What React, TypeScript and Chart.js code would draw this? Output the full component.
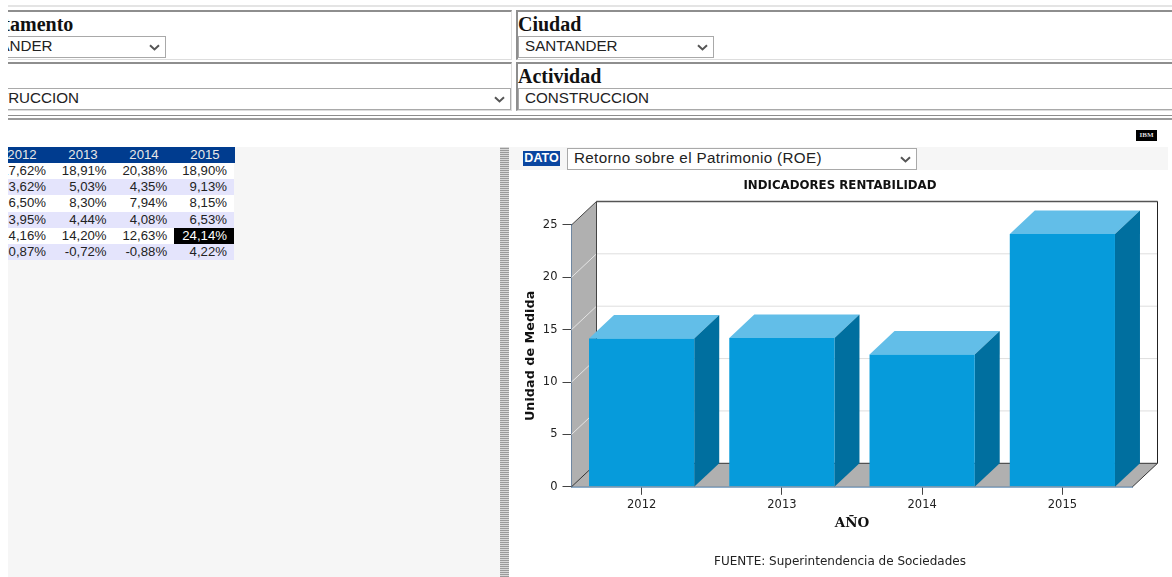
import React, { useEffect, useRef } from "react";
import { Chart, registerables } from "chart.js";

Chart.register(...registerables);

const years = ["2012", "2013", "2014", "2015"];
const roeValues = [14.16, 14.2, 12.63, 24.14];
const yTicks = [0, 5, 10, 15, 20, 25];

const tableRows = [
  ["17,62%", "18,91%", "20,38%", "18,90%"],
  ["3,62%", "5,03%", "4,35%", "9,13%"],
  ["6,50%", "8,30%", "7,94%", "8,15%"],
  ["3,95%", "4,44%", "4,08%", "6,53%"],
  ["14,16%", "14,20%", "12,63%", "24,14%"],
  ["0,87%", "-0,72%", "-0,88%", "4,22%"],
];

const DEPTH_X = 25;
const DEPTH_Y = 23.5;
const FRONT = "#069bdb";
const TOP = "#62bee8";
const SIDE = "#006f9f";
const WALL = "#b0b0b0";

function poly(ctx: CanvasRenderingContext2D, pts: number[][], fill: string) {
  ctx.beginPath();
  pts.forEach(([x, y], i) => (i ? ctx.lineTo(x, y) : ctx.moveTo(x, y)));
  ctx.closePath();
  ctx.fillStyle = fill;
  ctx.fill();
}

function seg(ctx: CanvasRenderingContext2D, x0: number, y0: number, x1: number, y1: number, color: string, w = 1) {
  ctx.beginPath();
  ctx.moveTo(x0, y0);
  ctx.lineTo(x1, y1);
  ctx.strokeStyle = color;
  ctx.lineWidth = w;
  ctx.stroke();
}

// Extruded room (walls and floor) and the top and side faces of each bar.
const box3d = {
  id: "box3d",
  beforeDatasetsDraw(chart: any) {
    const { ctx, chartArea: a, scales } = chart;
    const dx = DEPTH_X;
    const dy = DEPTH_Y;
    const base = scales.y.getPixelForValue(0);
    const top = scales.y.getPixelForValue(25);
    ctx.save();
    poly(ctx, [[a.left, base], [a.left + dx, base - dy], [a.left + dx, top - dy], [a.left, top]], WALL);
    poly(ctx, [[a.left, base], [a.right, base], [a.right + dx, base - dy], [a.left + dx, base - dy]], WALL);
    yTicks.forEach((t) => {
      const y = scales.y.getPixelForValue(t);
      if (t > 0 && t < 25) {
        seg(ctx, a.left + dx, y - dy, a.right + dx, y - dy, "#dedede");
        seg(ctx, a.left, y, a.left + dx, y - dy, "#e4e4e4");
      }
    });
    seg(ctx, a.left, base, a.left + dx, base - dy, "#333333");
    seg(ctx, a.left, top, a.left + dx, top - dy, "#444444");
    seg(ctx, a.left + dx, top - dy, a.right + dx, top - dy, "#555555", 1.5);
    seg(ctx, a.left + dx, top - dy, a.left + dx, base - dy, "#444444");
    seg(ctx, a.right + dx, top - dy, a.right + dx, base - dy, "#222222");
    seg(ctx, a.left + dx, base - dy, a.right + dx, base - dy, "#333333");
    seg(ctx, a.right, base, a.right + dx, base - dy, "#333333");
    chart.getDatasetMeta(0).data.forEach((bar: any) => {
      const half = bar.width / 2;
      const l = bar.x - half;
      const r = bar.x + half;
      poly(ctx, [[l, bar.y], [r, bar.y], [r + dx, bar.y - dy], [l + dx, bar.y - dy]], TOP);
      poly(ctx, [[r, bar.y], [r + dx, bar.y - dy], [r + dx, base - dy], [r, base]], SIDE);
    });
    ctx.restore();
  },
};

const serif = '"Liberation Serif", serif';
const sans = '"Liberation Sans", Arial, sans-serif';
const chevron =
  "url(\"data:image/svg+xml,%3Csvg xmlns='http://www.w3.org/2000/svg' width='11' height='7'%3E%3Cpath d='M1 1.2l4.5 4.2L10 1.2' fill='none' stroke='%23555' stroke-width='2'/%3E%3C/svg%3E\")";
const selectStyle: React.CSSProperties = {
  position: "absolute",
  height: 22,
  fontFamily: sans,
  fontSize: 15.2,
  lineHeight: "18px",
  paddingLeft: 6,
  paddingBottom: 2,
  appearance: "none",
  WebkitAppearance: "none",
  backgroundColor: "#fff",
  backgroundImage: chevron,
  backgroundRepeat: "no-repeat",
  backgroundPosition: "right 5px center",
  color: "#222",
  border: "1px solid #a9a9a9",
  borderRadius: 0,
  boxSizing: "border-box",
};
const heading: React.CSSProperties = {
  position: "absolute",
  fontFamily: serif,
  fontWeight: 700,
  fontSize: 20,
  lineHeight: "22px",
  color: "#111",
};

function at(left: number, top: number, width: number, height: number, extra: React.CSSProperties = {}): React.CSSProperties {
  return { position: "absolute", left, top, width, height, boxSizing: "border-box", ...extra };
}

export default function App() {
  const ref = useRef<HTMLCanvasElement>(null);

  useEffect(() => {
    const chart = new Chart(ref.current as HTMLCanvasElement, {
      type: "bar",
      plugins: [box3d],
      data: {
        labels: years,
        datasets: [
          {
            data: roeValues,
            backgroundColor: FRONT,
            borderWidth: 0,
            categoryPercentage: 1,
            barPercentage: 0.75,
          },
        ],
      },
      options: {
        animation: false,
        responsive: false,
        devicePixelRatio: 1,
        layout: { padding: 0 },
        plugins: {
          legend: { display: false },
          tooltip: { enabled: false },
          title: {
            display: true,
            text: "INDICADORES RENTABILIDAD",
            color: "#111",
            font: { family: "DejaVu Sans", size: 11.8, weight: "bold", lineHeight: 1.2 },
            padding: { top: 9, bottom: 31.8 },
          },
          subtitle: {
            display: true,
            position: "bottom",
            text: "FUENTE: Superintendencia de Sociedades",
            color: "#222",
            font: { family: "DejaVu Sans", size: 12, lineHeight: 1.2 },
            padding: { top: 17.2, bottom: 7.6 },
          },
        },
        scales: {
          x: {
            afterFit: (s: any) => {
              s.height = 51;
            },
            grid: { offset: false, drawOnChartArea: false, drawTicks: true, tickLength: 8, color: "#444" },
            border: { color: "#1d5a94", width: 1.5 },
            ticks: { color: "#222", padding: 3, font: { family: "DejaVu Sans", size: 11.5 }, maxRotation: 0 },
            title: {
              display: true,
              text: "AÑO",
              color: "#111",
              font: { family: "DejaVu Serif", size: 13.5, weight: "bold", lineHeight: 1.2 },
              padding: { top: 0, bottom: 6 },
            },
          },
          y: {
            min: 0,
            max: 25,
            afterFit: (s: any) => {
              s.width = 61.5;
            },
            afterBuildTicks: (s: any) => {
              s.ticks = yTicks.map((value) => ({ value }));
            },
            grid: { drawOnChartArea: false, drawTicks: true, tickLength: 9, color: "#444" },
            border: { color: "#2f5f92", width: 1.5 },
            ticks: { color: "#222", padding: 5, font: { family: "DejaVu Sans", size: 11.5 } },
            title: {
              display: true,
              text: "Unidad de Medida",
              color: "#111",
              font: { family: "DejaVu Sans", size: 12.8, weight: "bold", lineHeight: 1.2 },
              padding: { top: 13, bottom: 0 },
            },
          },
          // Empty right-hand axis: reserves the room the extruded depth needs.
          depthRoom: {
            type: "linear",
            position: "right",
            display: true,
            afterFit: (s: any) => {
              s.width = 37.5;
            },
            grid: { display: false, drawTicks: false },
            border: { display: false },
            ticks: { display: false },
          },
        },
      },
    } as any);
    return () => chart.destroy();
  }, []);

  return (
    <div style={{ position: "absolute", left: 0, top: 0, width: 1172, height: 577, overflow: "hidden", background: "#fff" }}>
      {/* Filter form */}
      <div style={at(8, 5, 1164, 2, { background: "#e4e4e4" })} />
      <div style={at(8, 10, 1164, 110, { overflow: "hidden" })}>
        <div style={at(-20, 0, 524, 50, { border: "1px solid #ddd", borderTop: "2px solid #8e8e8e", borderLeft: "2px solid #8e8e8e" })} />
        <div style={at(508, 0, 680, 50, { border: "1px solid #ddd", borderTop: "2px solid #8e8e8e", borderLeft: "2px solid #8e8e8e" })} />
        <div style={at(-20, 52, 524, 49, { border: "1px solid #ddd", borderTop: "2px solid #8e8e8e", borderLeft: "2px solid #8e8e8e" })} />
        <div style={at(508, 52, 680, 49, { border: "1px solid #ddd", borderTop: "2px solid #8e8e8e", borderLeft: "2px solid #8e8e8e" })} />
        <div style={{ ...heading, left: -58, top: 3 }}>Departamento</div>
        <div style={{ ...heading, left: 510, top: 3 }}>Ciudad</div>
        <div style={{ ...heading, left: 510, top: 55 }}>Actividad</div>
        <select defaultValue="s" style={{ ...selectStyle, left: -55, top: 26, width: 213 }}>
          <option value="s">SANTANDER</option>
        </select>
        <select defaultValue="s" style={{ ...selectStyle, left: 510, top: 26, width: 196 }}>
          <option value="s">SANTANDER</option>
        </select>
        <select defaultValue="c" style={{ ...selectStyle, left: -60, top: 78, width: 563 }}>
          <option value="c">CONSTRUCCION</option>
        </select>
        <select defaultValue="c" style={{ ...selectStyle, left: 510, top: 78, width: 700 }}>
          <option value="c">CONSTRUCCION</option>
        </select>
        <div style={at(0, 105, 1164, 5, { borderTop: "1px solid #8e8e8e", borderBottom: "2px solid #9a9a9a" })} />
      </div>

      {/* Logo */}
      <div style={at(1136, 130, 21, 11, { background: "#000", color: "#ddd", font: `700 7px/11px ${serif}`, textAlign: "center" })}>IBM</div>

      {/* Left panel with the indicators table */}
      <div style={at(8, 147, 492, 430, { background: "#f6f6f6", overflow: "hidden" })}>
        <div style={at(0, 0, 227, 16, { background: "#003c8f" })} />
        {years.map((y, i) => (
          <div key={y} style={at(-16.5 + i * 61, 0, 61, 16, { color: "#e8e8e8", font: `13.2px/16px ${sans}`, textAlign: "center" })}>
            {y}
          </div>
        ))}
        {tableRows.map((row, r) => (
          <div key={r} style={at(0, 16 + r * 16.2, 226, 16.2, { background: r % 2 ? "#e4e4fc" : "#fff" })}>
            {row.map((cell, c) => {
              const hot = cell === "24,14%";
              return (
                <div
                  key={c}
                  style={at(c === 3 ? 166 : c * 60.6 - 23, 0, c === 3 ? 60 : 61, 16.2, {
                    background: hot ? "#000" : "transparent",
                    color: hot ? "#fff" : "#222",
                    font: `13.2px/16px ${sans}`,
                    textAlign: "right",
                    paddingRight: c === 3 ? 7 : 0,
                  })}
                >
                  {cell}
                </div>
              );
            })}
          </div>
        ))}
      </div>

      {/* Splitter */}
      <div
        style={at(500, 147, 9, 430, {
          background: "repeating-linear-gradient(0deg,#9a9a9a 0 1px,#d8d8d8 1px 2px)",
        })}
      />

      {/* Right panel header */}
      <div style={at(509, 147, 659, 23, { background: "#f6f6f6" })} />
      <div style={at(523, 151, 37, 15, { background: "#0a46a0", color: "#fff", font: `700 12.5px/15px ${sans}`, textAlign: "center" })}>DATO</div>
      <select defaultValue="r" style={{ ...selectStyle, left: 567, top: 148, width: 350, letterSpacing: 0.35 }}>
        <option value="r">Retorno sobre el Patrimonio (ROE)</option>
      </select>

      <canvas ref={ref} width={660} height={407} style={{ position: "absolute", left: 510, top: 170, width: 660, height: 407 }} />
    </div>
  );
}
